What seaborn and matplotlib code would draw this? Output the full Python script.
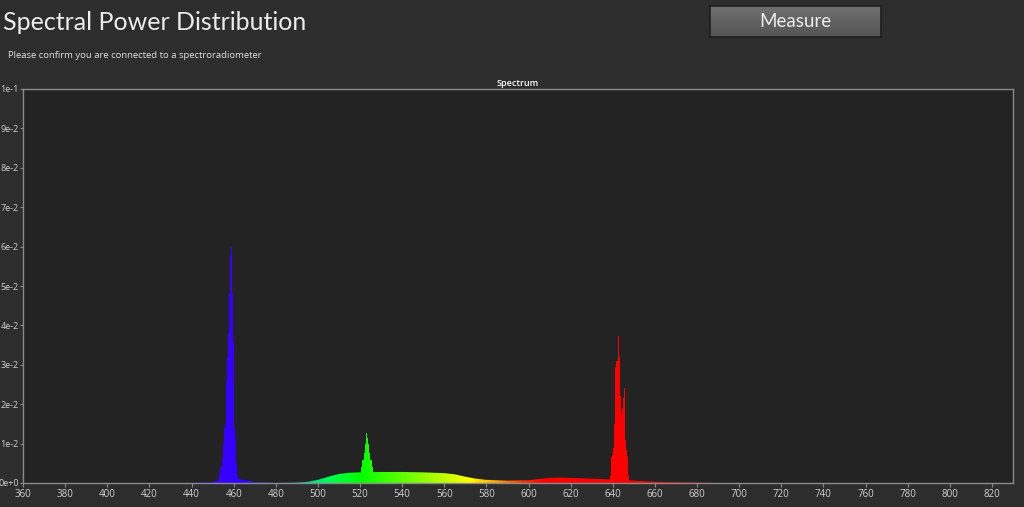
import numpy as np
import matplotlib
matplotlib.use("Agg")
import matplotlib.pyplot as plt
from matplotlib.colors import LinearSegmentedColormap
import seaborn as sns

# --- data ---
# broad continuum (nm, relative power)
continuum_nm = [440, 450, 453, 456, 462, 465, 470, 480, 490, 495, 500, 505, 510, 515,
                520, 530, 540, 550, 560, 565, 570, 575, 580, 590, 600, 605, 610, 615,
                620, 630, 640, 650, 660, 670, 680, 690]
continuum_val = [0, 0.0002, 0.0008, 0.0010, 0.0010, 0.0008, 0.0002, 0, 0.0001, 0.0003,
                 0.0008, 0.0016, 0.0023, 0.0026, 0.0027, 0.0028, 0.0028, 0.0027, 0.0025,
                 0.0022, 0.0016, 0.0011, 0.0008, 0.0006, 0.0007, 0.0010, 0.0013, 0.0014,
                 0.0013, 0.0011, 0.0009, 0.0006, 0.0003, 0.0002, 0.0001, 0]

# narrow emission lines, 0.5 nm bins
blue_nm = [452.5, 453.0, 453.5, 454.0, 454.5, 455.0, 455.5, 456.0, 456.5, 457.0, 457.5,
           458.0, 458.5, 459.0, 459.5, 460.0, 460.5, 461.0, 461.5, 462.0, 462.5, 463.0]
blue_val = [0, 0.001, 0.002, 0.004, 0.006, 0.010, 0.014, 0.015, 0.026, 0.032, 0.038,
            0.048, 0.058, 0.060, 0.048, 0.036, 0.014, 0.012, 0.005, 0.002, 0.001, 0]

green_nm = [520.0, 520.5, 521.0, 521.5, 522.0, 522.5, 523.0, 523.5, 524.0, 524.5, 525.0,
            525.5, 526.0, 526.5]
green_val = [0, 0.0040, 0.0058, 0.0058, 0.0075, 0.0100, 0.0128, 0.0115, 0.0100, 0.0075,
             0.0058, 0.0058, 0.0040, 0]

red_nm = [638.5, 639.0, 639.5, 640.0, 640.5, 641.0, 641.5, 642.0, 642.5, 643.0, 643.5,
          644.0, 644.5, 645.0, 645.5, 646.0, 646.5, 647.0, 647.5, 648.0]
red_val = [0, 0.0020, 0.0066, 0.0070, 0.0090, 0.0150, 0.0295, 0.0310, 0.0373, 0.0320,
           0.0220, 0.0175, 0.0190, 0.0215, 0.0240, 0.0110, 0.0085, 0.0066, 0.0020, 0]

x_ticks = list(range(360, 821, 20))
y_ticks = [0.0, 0.01, 0.02, 0.03, 0.04, 0.05, 0.06, 0.07, 0.08, 0.09, 0.1]
y_tick_labels = ['0e+0', '1e-2', '2e-2', '3e-2', '4e-2', '5e-2', '6e-2', '7e-2', '8e-2',
                 '9e-2', '1e-1']

# --- style ---
FIG_BG = '#2d2d2d'
AX_BG = '#232323'
SPINE = '#8a8a8a'
TXT = '#d0d0d0'

sns.set_theme(style='dark', rc={'figure.facecolor': FIG_BG, 'axes.facecolor': AX_BG,
                                'axes.edgecolor': SPINE, 'axes.grid': False})
plt.rcParams['font.family'] = ['Open Sans', 'DejaVu Sans']

# wavelength -> colour
WL_MIN, WL_MAX = 360, 830
anchors = [(360, '#7a00ff'), (440, '#4000ff'), (465, '#3000ff'), (480, '#0070ff'),
           (493, '#00d0a0'), (505, '#00ff50'), (520, '#00ff00'), (550, '#90ff00'),
           (572, '#ffff00'), (585, '#ffa000'), (598, '#ff3000'), (608, '#ff0000'),
           (830, '#ff0000')]
spec_cmap = LinearSegmentedColormap.from_list(
    'spec', [((w - WL_MIN) / (WL_MAX - WL_MIN), c) for w, c in anchors])

fig = plt.figure(figsize=(10.24, 5.07), dpi=100)
ax = fig.add_axes([23 / 1024, 1 - 483 / 507, 990 / 1024, 394 / 507])

gradient = np.linspace(WL_MIN, WL_MAX, 2000).reshape(1, -1)


def gradient_fill(x, y, step=None):
    poly = ax.fill_between(x, y, 0, step=step, facecolor='none', edgecolor='none')
    im = ax.imshow(gradient, cmap=spec_cmap, vmin=WL_MIN, vmax=WL_MAX, aspect='auto',
                   extent=[WL_MIN, WL_MAX, 0, 0.1], origin='lower', zorder=2,
                   interpolation='bilinear')
    im.set_clip_path(poly.get_paths()[0], transform=ax.transData)


gradient_fill(continuum_nm, continuum_val)
for nm, val in [(blue_nm, blue_val), (green_nm, green_val), (red_nm, red_val)]:
    gradient_fill(nm, val, step='mid')

ax.set_xlim(WL_MIN, WL_MAX)
ax.set_ylim(0, 0.1)
ax.set_xticks(x_ticks)
ax.set_xticklabels([str(t) for t in x_ticks])
ax.set_yticks(y_ticks)
ax.set_yticklabels(y_tick_labels)
ax.tick_params(axis='x', colors=SPINE, labelcolor=TXT, labelsize=7, length=3, width=0.8,
               direction='out', bottom=True, pad=1.5)
ax.tick_params(axis='y', colors=SPINE, labelcolor=TXT, labelsize=6.5, length=2.5,
               width=0.8, direction='out', left=True, pad=0.5)
for s in ax.spines.values():
    s.set_visible(True)
    s.set_color(SPINE)
    s.set_linewidth(1.0)
ax.set_title('Spectrum', fontsize=6.5, color='white', pad=2, fontweight='semibold')

# header texts
fig.text(3 / 1024, 1 - 22 / 507, 'Spectral Power Distribution', fontsize=18,
         color='#ececec', va='center', ha='left', family=['Lato', 'DejaVu Sans'])
fig.text(8 / 1024, 1 - 56 / 507, 'Please confirm you are connected to a spectroradiometer',
         fontsize=6.8, color='#e0e0e0', va='center', ha='left')

# Measure button
bax = fig.add_axes([710 / 1024, 1 - 37 / 507, 171 / 1024, 31 / 507])
bax.imshow(np.linspace(0.44, 0.33, 50).reshape(-1, 1), cmap='gray', vmin=0, vmax=1,
           aspect='auto', extent=[0, 1, 0, 1])
bax.set_xticks([])
bax.set_yticks([])
for s in bax.spines.values():
    s.set_color('#1e1e1e')
    s.set_linewidth(1.2)
bax.text(0.5, 0.5, 'Measure', fontsize=13.5, color='#ececec', ha='center', va='center',
         transform=bax.transAxes, family=['Lato', 'DejaVu Sans'])

fig.savefig('out.png', dpi=100, facecolor=FIG_BG)
